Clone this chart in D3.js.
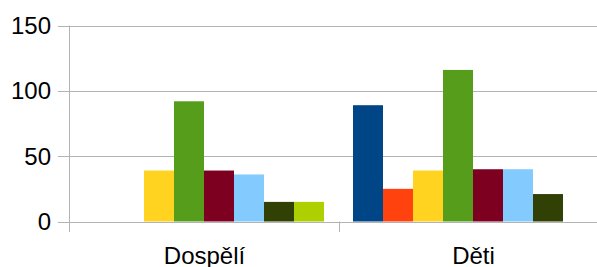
<!DOCTYPE html>
<html><head><meta charset="utf-8">
<script src="https://cdn.jsdelivr.net/npm/d3@7"></script>
<style>body{margin:0;background:#fff}svg{display:block}</style>
</head><body>
<svg id="c" width="597" height="267"></svg>
<script>
const categories = ["Dospělí", "Děti"];
const seriesNames = ["S1","S2","S3","S4","S5","S6","S7","S8"];
const seriesColors = ["#004586","#ff420e","#ffd320","#579d1c","#7e0021","#83caff","#314004","#aecf00"];
const dospeli = [0, 0, 39, 92, 39, 36, 15, 15];
const deti = [89, 25, 39, 116, 40, 40, 21, 0];
const yTicks = [0, 50, 100, 150];
const values = [dospeli, deti];

const svg = d3.select("#c");
const x = d3.scaleBand().domain(categories).range([69.5, 607.5]);
const xs = d3.scaleBand().domain(seriesNames).range([14.5, x.bandwidth() - 14.5]);
const y = d3.scaleLinear().domain([0, 150]).range([221.5, 25.5]);

// gridlines
svg.append("g").selectAll("line").data(yTicks).join("line")
  .attr("x1", 58).attr("x2", 597)
  .attr("y1", d => Math.round(y(d)) + 0.5).attr("y2", d => Math.round(y(d)) + 0.5)
  .attr("stroke", "#b3b3b3").attr("stroke-width", 1);

// bars
categories.forEach((c, ci) => {
  svg.append("g").selectAll("rect").data(values[ci]).join("rect")
    .attr("x", (d, i) => x(c) + xs(seriesNames[i]))
    .attr("width", xs.bandwidth())
    .attr("y", d => y(d))
    .attr("height", d => y(0) - y(d))
    .attr("fill", (d, i) => seriesColors[i]);
});

// axes lines
svg.append("line").attr("x1", 69.5).attr("x2", 69.5).attr("y1", y(150)).attr("y2", 232)
  .attr("stroke", "#b3b3b3");
svg.append("line").attr("x1", 58).attr("x2", 597).attr("y1", Math.round(y(0)) + 0.5).attr("y2", Math.round(y(0)) + 0.5)
  .attr("stroke", "#b3b3b3");
svg.append("g").selectAll("line").data(categories.slice(1)).join("line")
  .attr("x1", d => Math.round(x(d)) + 0.5).attr("x2", d => Math.round(x(d)) + 0.5)
  .attr("y1", y(0)).attr("y2", 232).attr("stroke", "#b3b3b3");

// y labels
svg.append("g").selectAll("text").data(yTicks).join("text")
  .attr("x", 51).attr("y", d => y(d)).attr("dy", "0.36em")
  .attr("text-anchor", "end")
  .attr("font-family", "Liberation Sans, Arial, sans-serif").attr("font-size", 24)
  .attr("fill", "#000").text(d => d);

// x labels
svg.append("g").selectAll("text").data(categories).join("text")
  .attr("x", d => x(d) + 135).attr("y", 264)
  .attr("text-anchor", "middle")
  .attr("font-family", "Liberation Sans, Arial, sans-serif").attr("font-size", 24)
  .attr("fill", "#000").text(d => d);
</script>
</body></html>
